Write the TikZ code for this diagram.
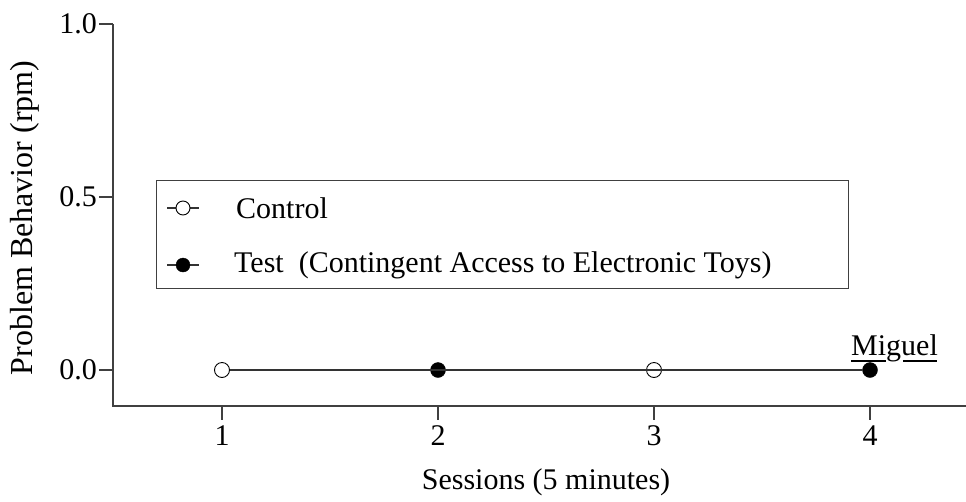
\documentclass[tikz,border=0pt]{standalone}
\usepackage{fontspec}
\setmainfont{Liberation Serif}
\begin{document}
\begin{tikzpicture}[x=1pt,y=-1pt,
  lbl/.style={font=\fontsize{30}{36}\selectfont, inner sep=0pt},
  axisline/.style={draw=black!75, line width=1.3pt},
  dataline/.style={draw=black!80, line width=1.1pt},
  opendot/.style={circle, draw=black, fill=white, line width=0.9pt, minimum size=15pt, inner sep=0pt},
  filldot/.style={circle, draw=black, fill=black, minimum size=15pt, inner sep=0pt}]
\useasboundingbox (0,0) rectangle (966,501);
% axes
\coordinate (ytop) at (113,24);
\coordinate (origin) at (113,406);
\coordinate (xend) at (966,406);
\draw[axisline] (ytop) -- (origin) -- (xend);
% y ticks
\foreach \k/\v/\py in {a/1.0/24, b/0.5/197, c/0.0/370} {
  \coordinate (yt\k) at (113,\py);
  \draw[axisline] (yt\k) -- ++(-14,0) node[lbl, anchor=east, xshift=-1.5pt] {\v};
}
% x ticks
\foreach \n/\px in {1/222, 2/438, 3/654, 4/870} {
  \coordinate (xt\n) at (\px,406);
  \draw[axisline] (xt\n) -- ++(0,14) node[lbl, anchor=north, yshift=-5pt] {\n};
}
% axis titles
\node[lbl] (xtitle) at (546,482) {Sessions (5 minutes)};
\node[lbl, font=\fontsize{32}{38}\selectfont, rotate=90] (ytitle) at (25,218) {Problem Behavior (rpm)};
% data
\node[opendot] (c1) at (222,370) {};
\node[filldot] (t2) at (438,370) {};
\node[opendot] (c3) at (654,370) {};
\node[filldot] (t4) at (870,370) {};
\draw[dataline] (c1) -- (c3);
\draw[dataline] (t2) -- (t4);
% legend
\node[draw=black!75, line width=1pt, minimum width=692pt, minimum height=108pt, anchor=north west, inner sep=0pt] (legend) at (156,180) {};
\coordinate (la1) at (167,208);
\coordinate (lb1) at (199,208);
\coordinate (la2) at (167,265);
\coordinate (lb2) at (199,265);
\draw[dataline] (la1) -- (lb1);
\draw[dataline] (la2) -- (lb2);
\node[opendot, minimum size=14pt] (lm1) at (183,208) {};
\node[filldot, minimum size=14pt] (lm2) at (183,265) {};
\node[lbl, anchor=west] (lt1) at (236,208) {Control};
\node[lbl, anchor=west] (lt2) at (234,265) {Test\hspace{0.5em}(Contingent Access to Electronic Toys)};
% subject label
\node[lbl, anchor=base west] (miguel) at (851,355) {Miguel};
\coordinate (u1a) at (851,361); \coordinate (u1b) at (886,361);
\coordinate (u2a) at (903,361); \coordinate (u2b) at (937,361);
\draw[line width=2pt] (u1a) -- (u1b);
\draw[line width=2pt] (u2a) -- (u2b);
\end{tikzpicture}
\end{document}
